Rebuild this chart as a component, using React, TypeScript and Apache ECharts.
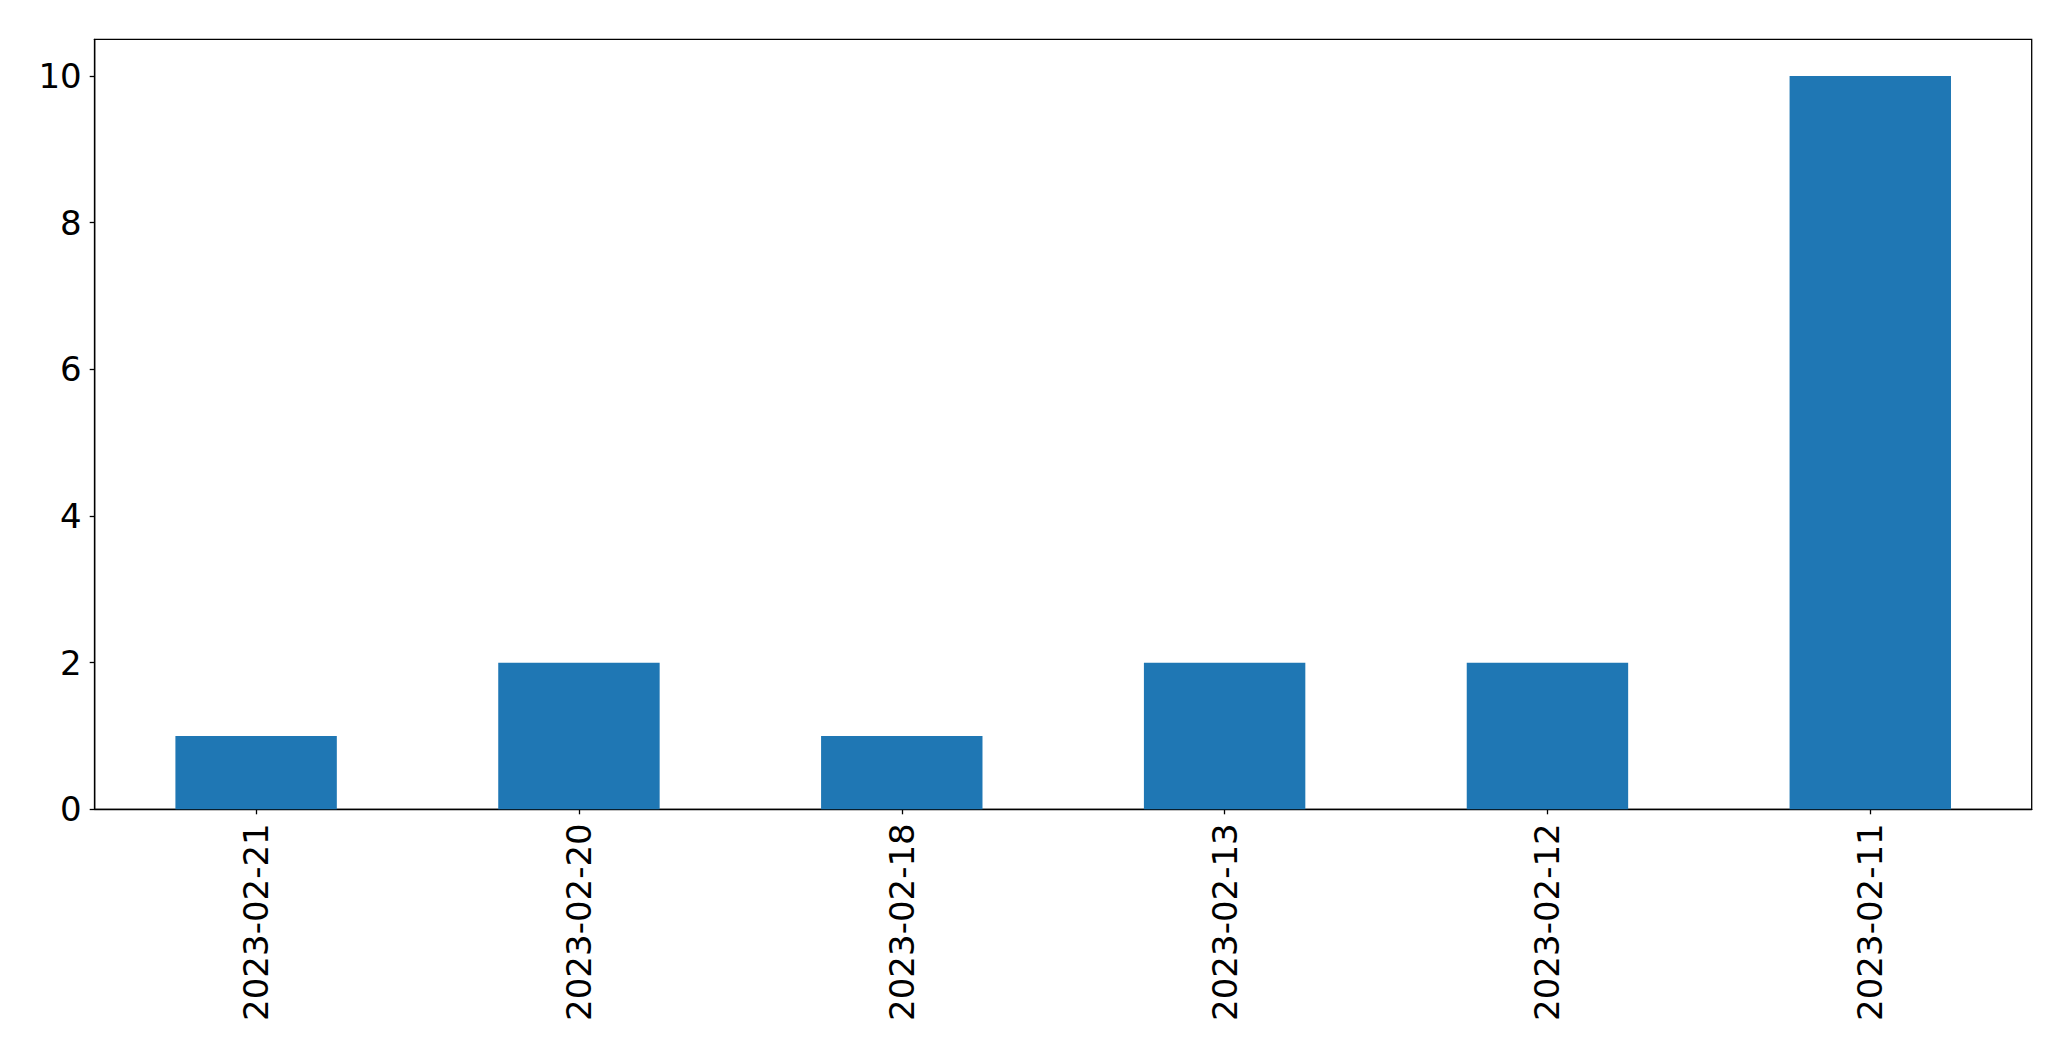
import React, { useEffect, useRef } from "react";
import * as echarts from "echarts";

const categories = ["2023-02-21", "2023-02-20", "2023-02-18", "2023-02-13", "2023-02-12", "2023-02-11"];
const counts = [1, 2, 1, 2, 2, 10];
const yTicks = [0, 2, 4, 6, 8, 10];

export default function App() {
  const ref = useRef<HTMLDivElement>(null);
  useEffect(() => {
    if (!ref.current) return;
    const chart = echarts.init(ref.current, undefined, { renderer: "svg" });
    const font = "DejaVu Sans";
    chart.setOption({
      animation: false,
      backgroundColor: "#ffffff",
      grid: {
        left: 94.7,
        right: 39.3,
        top: 39.3,
        bottom: 251.7,
        show: true,
        borderColor: "#000000",
        borderWidth: 1.3,
        backgroundColor: "transparent",
      },
      xAxis: {
        type: "category",
        data: categories,
        boundaryGap: true,
        axisLine: { show: true, lineStyle: { color: "#000000", width: 1.3 } },
        axisTick: { show: true, alignWithLabel: true, length: 5, lineStyle: { color: "#000000", width: 1.3 } },
        axisLabel: {
          rotate: 90,
          margin: 14,
          fontSize: 34,
          fontFamily: font,
          color: "#000000",
          interval: 0,
        },
        splitLine: { show: false },
      },
      yAxis: {
        type: "value",
        min: 0,
        max: 10.5,
        interval: 2,
        axisLine: { show: true, lineStyle: { color: "#000000", width: 1.3 } },
        axisTick: { show: true, length: 5, customValues: yTicks, lineStyle: { color: "#000000", width: 1.3 } },
        axisLabel: {
          margin: 13,
          fontSize: 34,
          fontFamily: font,
          color: "#000000",
          customValues: yTicks,
        },
        splitLine: { show: false },
      },
      series: [
        {
          type: "bar",
          data: counts,
          barWidth: "50%",
          itemStyle: { color: "#1f77b4" },
        },
      ],
    });
    return () => chart.dispose();
  }, []);
  return (
    <div
      ref={ref}
      style={{ position: "fixed", left: 0, top: 0, width: 2071, height: 1061, background: "#ffffff" }}
    />
  );
}
